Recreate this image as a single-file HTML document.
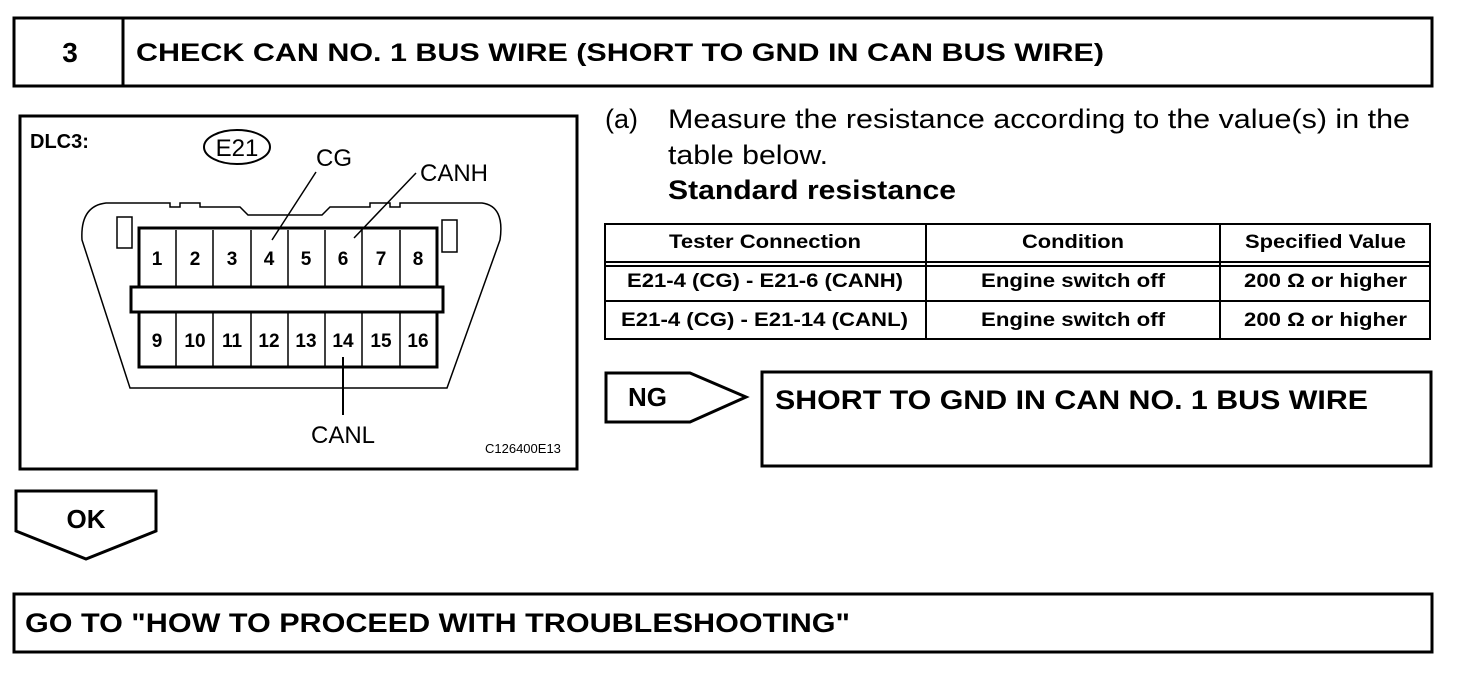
<!DOCTYPE html>
<html><head><meta charset="utf-8"><style>
html,body{margin:0;padding:0;background:#fff;}
svg{display:block;font-family:"Liberation Sans",Arial,sans-serif;}
</style></head><body>
<svg width="1472" height="676" viewBox="0 0 1472 676" xmlns="http://www.w3.org/2000/svg">
<g fill="none" stroke="#000" stroke-width="3">
<rect x="14" y="18" width="1418" height="68"/>
<line x1="123" y1="18" x2="123" y2="86"/>
<rect x="20" y="116" width="557" height="353"/>
<rect x="605" y="224" width="825" height="115" stroke-width="2"/>
<line x1="605" y1="262" x2="1430" y2="262" stroke-width="2"/>
<line x1="605" y1="266" x2="1430" y2="266" stroke-width="2"/>
<line x1="605" y1="301" x2="1430" y2="301" stroke-width="2"/>
<line x1="926" y1="224" x2="926" y2="339" stroke-width="2"/>
<line x1="1220" y1="224" x2="1220" y2="339" stroke-width="2"/>
<polygon points="606,373 690,373 746,397 690,422 606,422"/>
<rect x="762" y="372" width="669" height="94"/>
<polygon points="16,491 156,491 156,531 86,559 16,531"/>
<rect x="14" y="594" width="1418" height="58"/>
</g>
<text x="70" y="62" font-size="28" font-weight="bold" text-anchor="middle">3</text>
<text x="136" y="61" font-size="25" font-weight="bold" textLength="968" lengthAdjust="spacingAndGlyphs">CHECK CAN NO. 1 BUS WIRE (SHORT TO GND IN CAN BUS WIRE)</text>
<!-- connector -->
<g fill="none" stroke="#000" stroke-width="1.5">
<path d="M106,203 L170,203 L170,207 L180,207 L180,203 L200,203 L200,207 L240,207 L248,215 L322,215 L330,207 L370,207 L370,203 L390,203 L390,207 L400,207 L400,203 L482,203 Q505,206 500,240 L447,388 L130,388 L82,240 Q80,206 106,203 Z"/>
<rect x="117" y="217" width="15" height="31"/>
<rect x="442" y="220" width="15" height="32"/>
</g>
<g fill="#fff" stroke="#000" stroke-width="3">
<rect x="139" y="228" width="298" height="139"/>
<rect x="131" y="287" width="312" height="25"/>
</g>
<g stroke="#000" stroke-width="1.5">
<line x1="176" y1="230" x2="176" y2="286"/><line x1="213" y1="230" x2="213" y2="286"/><line x1="251" y1="230" x2="251" y2="286"/><line x1="288" y1="230" x2="288" y2="286"/><line x1="325" y1="230" x2="325" y2="286"/><line x1="362" y1="230" x2="362" y2="286"/><line x1="400" y1="230" x2="400" y2="286"/>
<line x1="176" y1="313" x2="176" y2="366"/><line x1="213" y1="313" x2="213" y2="366"/><line x1="251" y1="313" x2="251" y2="366"/><line x1="288" y1="313" x2="288" y2="366"/><line x1="325" y1="313" x2="325" y2="366"/><line x1="362" y1="313" x2="362" y2="366"/><line x1="400" y1="313" x2="400" y2="366"/>
<line x1="316" y1="172" x2="272" y2="240"/>
<line x1="416" y1="173" x2="354" y2="238"/>
<line x1="343" y1="357" x2="343" y2="415" stroke-width="2"/>
</g>
<g font-size="19" font-weight="bold" text-anchor="middle">
<text x="157" y="265">1</text><text x="195" y="265">2</text><text x="232" y="265">3</text><text x="269" y="265">4</text><text x="306" y="265">5</text><text x="343" y="265">6</text><text x="381" y="265">7</text><text x="418" y="265">8</text>
<text x="157" y="347">9</text><text x="195" y="347">10</text><text x="232" y="347">11</text><text x="269" y="347">12</text><text x="306" y="347">13</text><text x="343" y="347">14</text><text x="381" y="347">15</text><text x="418" y="347">16</text>
</g>
<text x="30" y="148" font-size="20" font-weight="bold">DLC3:</text>
<ellipse cx="237" cy="147" rx="33" ry="17" fill="none" stroke="#000" stroke-width="2"/>
<text x="237" y="156" font-size="24" text-anchor="middle">E21</text>
<text x="316" y="166" font-size="24">CG</text>
<text x="420" y="181" font-size="24">CANH</text>
<text x="311" y="443" font-size="24">CANL</text>
<text x="485" y="453" font-size="13">C126400E13</text>
<!-- right text -->
<text x="605" y="128" font-size="27">(a)</text>
<text x="668" y="128" font-size="27" textLength="742" lengthAdjust="spacingAndGlyphs">Measure the resistance according to the value(s) in the</text>
<text x="668" y="164" font-size="27" textLength="160" lengthAdjust="spacingAndGlyphs">table below.</text>
<text x="668" y="199" font-size="27" font-weight="bold" textLength="288" lengthAdjust="spacingAndGlyphs">Standard resistance</text>
<g font-size="19" font-weight="bold">
<text x="669" y="248" textLength="192" lengthAdjust="spacingAndGlyphs">Tester Connection</text>
<text x="1022" y="248" textLength="102" lengthAdjust="spacingAndGlyphs">Condition</text>
<text x="1245" y="248" textLength="161" lengthAdjust="spacingAndGlyphs">Specified Value</text>
<text x="627" y="287" textLength="276" lengthAdjust="spacingAndGlyphs">E21-4 (CG) - E21-6 (CANH)</text>
<text x="981" y="287" textLength="184" lengthAdjust="spacingAndGlyphs">Engine switch off</text>
<text x="1244" y="287" textLength="163" lengthAdjust="spacingAndGlyphs">200 Ω or higher</text>
<text x="621" y="326" textLength="287" lengthAdjust="spacingAndGlyphs">E21-4 (CG) - E21-14 (CANL)</text>
<text x="981" y="326" textLength="184" lengthAdjust="spacingAndGlyphs">Engine switch off</text>
<text x="1244" y="326" textLength="163" lengthAdjust="spacingAndGlyphs">200 Ω or higher</text>
</g>
<text x="628" y="406" font-size="26" font-weight="bold">NG</text>
<text x="775" y="409" font-size="27" font-weight="bold" textLength="593" lengthAdjust="spacingAndGlyphs">SHORT TO GND IN CAN NO. 1 BUS WIRE</text>
<text x="86" y="528" font-size="26" font-weight="bold" text-anchor="middle">OK</text>
<text x="25" y="632" font-size="27" font-weight="bold" textLength="825" lengthAdjust="spacingAndGlyphs">GO TO "HOW TO PROCEED WITH TROUBLESHOOTING"</text>
</svg>
</body></html>
